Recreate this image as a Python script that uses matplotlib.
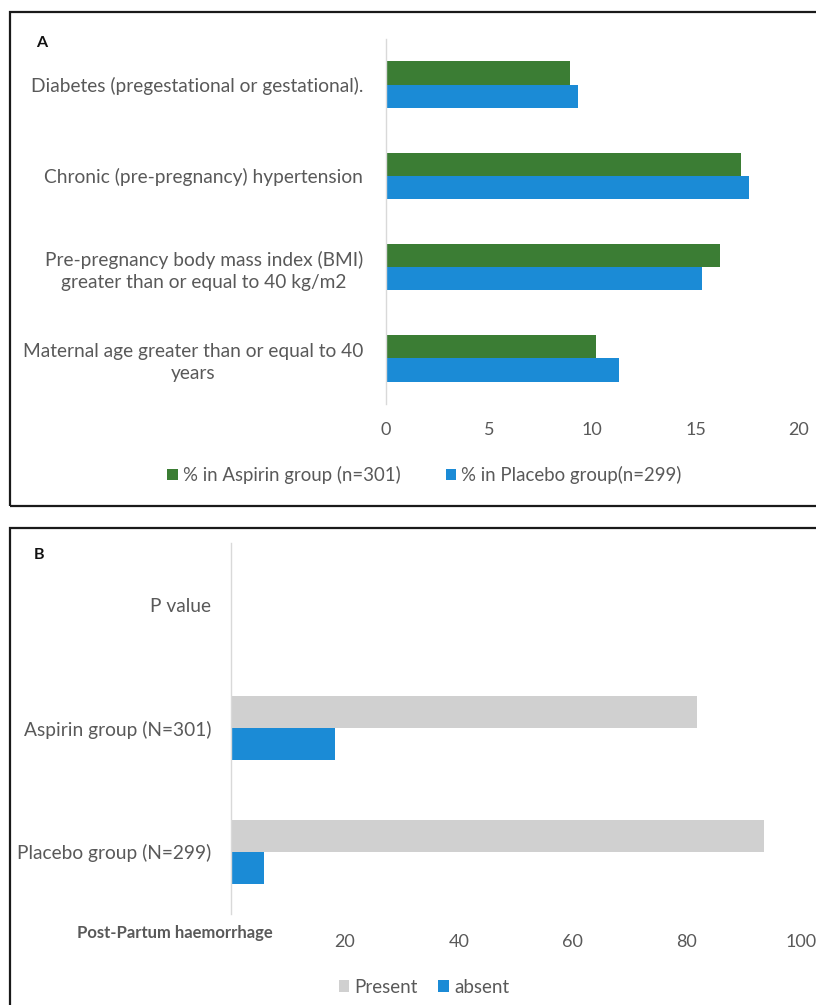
import numpy as np
import matplotlib
matplotlib.use("Agg")
import matplotlib.pyplot as plt
from matplotlib.patches import Rectangle

# Panel A: prevalence of risk factors (%) by treatment group
risk_factors = [
    "Diabetes (pregestational or gestational).",
    "Chronic (pre-pregnancy) hypertension",
    "Pre-pregnancy body mass index (BMI)\ngreater than or equal to 40 kg/m2",
    "Maternal age greater than or equal to 40\nyears",
]
aspirin_pct = [8.9, 17.2, 16.2, 10.2]
placebo_pct = [9.3, 17.6, 15.3, 11.3]
risk_ticks = [0, 5, 10, 15, 20]
risk_series = ["% in Aspirin group (n=301)", "% in Placebo group(n=299)"]

# Panel B: post-partum haemorrhage (%) by group
pph_groups = ["P value", "Aspirin group (N=301)", "Placebo group (N=299)"]
pph_present = [np.nan, 81.8, 93.6]
pph_absent = [np.nan, 18.3, 5.9]
pph_ticks = [20, 40, 60, 80, 100]
pph_series = ["Present", "absent"]
pph_axis_title = "Post-Partum haemorrhage"

GREEN = "#3b7d34"
BLUE = "#1b8bd6"
GREY = "#d0d0d0"
TEXT = "#595959"

plt.rcParams["font.family"] = ["Lato", "DejaVu Sans"]

W, H = 816, 1005
fig = plt.figure(figsize=(W / 100, H / 100), dpi=100)
fig.patch.set_facecolor("white")


def px_axes(x0, y0, x1, y1):
    """Add axes from pixel box (top-left origin)."""
    return fig.add_axes([x0 / W, 1 - y1 / H, (x1 - x0) / W, (y1 - y0) / H])


def style_axes(ax):
    for side in ("top", "right", "bottom"):
        ax.spines[side].set_visible(False)
    ax.spines["left"].set_color("#d9d9d9")
    ax.spines["left"].set_linewidth(1.0)
    ax.tick_params(axis="both", length=0, colors=TEXT)
    ax.set_facecolor("none")


# Panel frames
fig.add_artist(Rectangle((10 / W, 1 - 506 / H), 1.0, (506 - 12) / H,
                         transform=fig.transFigure, fill=False,
                         lw=1.6, ec="#1a1a1a"))
fig.add_artist(Rectangle((10 / W, -0.1), 1.0, 0.1 + (1 - 528 / H),
                         transform=fig.transFigure, fill=False,
                         lw=1.6, ec="#1a1a1a"))

# ---------- Panel A ----------
axA = px_axes(385.5, 39, 799, 404)
style_axes(axA)
ya = np.arange(len(risk_factors))
bh = 0.255
bg = axA.barh(ya - bh / 2, aspirin_pct, height=bh, color=GREEN, label=risk_series[0])
bb = axA.barh(ya + bh / 2, placebo_pct, height=bh, color=BLUE, label=risk_series[1])
axA.set_xlim(risk_ticks[0], risk_ticks[-1])
axA.set_ylim(len(risk_factors) - 0.5, -0.5)
axA.set_xticks(risk_ticks)
axA.set_xticklabels([str(t) for t in risk_ticks], fontsize=13)
axA.set_yticks(ya)
axA.set_yticklabels(risk_factors, fontsize=13.8, multialignment="center",
                    linespacing=1.35)
axA.tick_params(axis="y", pad=16)
axA.tick_params(axis="x", pad=13)
axA.legend([bg, bb], risk_series, loc="center", bbox_to_anchor=(424.5 / W, 1 - 475 / H),
           bbox_transform=fig.transFigure, ncol=2, frameon=False, fontsize=13.4,
           handlelength=0.55, handleheight=0.55, handletextpad=0.3, columnspacing=2.4,
           labelcolor=TEXT)
fig.text(42 / W, 1 - 43 / H, "A", fontsize=11.5, fontweight="bold", color="#111111",
         ha="center", va="center")

# ---------- Panel B ----------
axB = px_axes(230.7, 543, 800.7, 913.5)
style_axes(axB)
yb = np.arange(len(pph_groups))
bh2 = 0.26
bp = axB.barh(yb - bh2 / 2, pph_present, height=bh2, color=GREY, label=pph_series[0])
ba = axB.barh(yb + bh2 / 2, pph_absent, height=bh2, color=BLUE, label=pph_series[1])
axB.set_xlim(0, 100)
axB.set_ylim(len(pph_groups) - 0.5, -0.5)
axB.set_xticks(pph_ticks)
axB.set_xticklabels([str(t) for t in pph_ticks], fontsize=13)
axB.set_yticks(yb)
axB.set_yticklabels(pph_groups, fontsize=13.8)
axB.tick_params(axis="y", pad=14)
axB.tick_params(axis="x", pad=15)
axB.legend([bp, ba], pph_series, loc="center", bbox_to_anchor=(424 / W, 1 - 987 / H),
           bbox_transform=fig.transFigure, ncol=2, frameon=False, fontsize=13.5,
           handlelength=0.55, handleheight=0.55, handletextpad=0.3, columnspacing=1.1,
           labelcolor=TEXT)
fig.text(175 / W, 1 - 933 / H, pph_axis_title, fontsize=12, fontweight="bold",
         color=TEXT, ha="center", va="center")
fig.text(39 / W, 1 - 555 / H, "B", fontsize=11.5, fontweight="bold", color="#111111",
         ha="center", va="center")

fig.savefig("out.png", dpi=100, facecolor="white")
